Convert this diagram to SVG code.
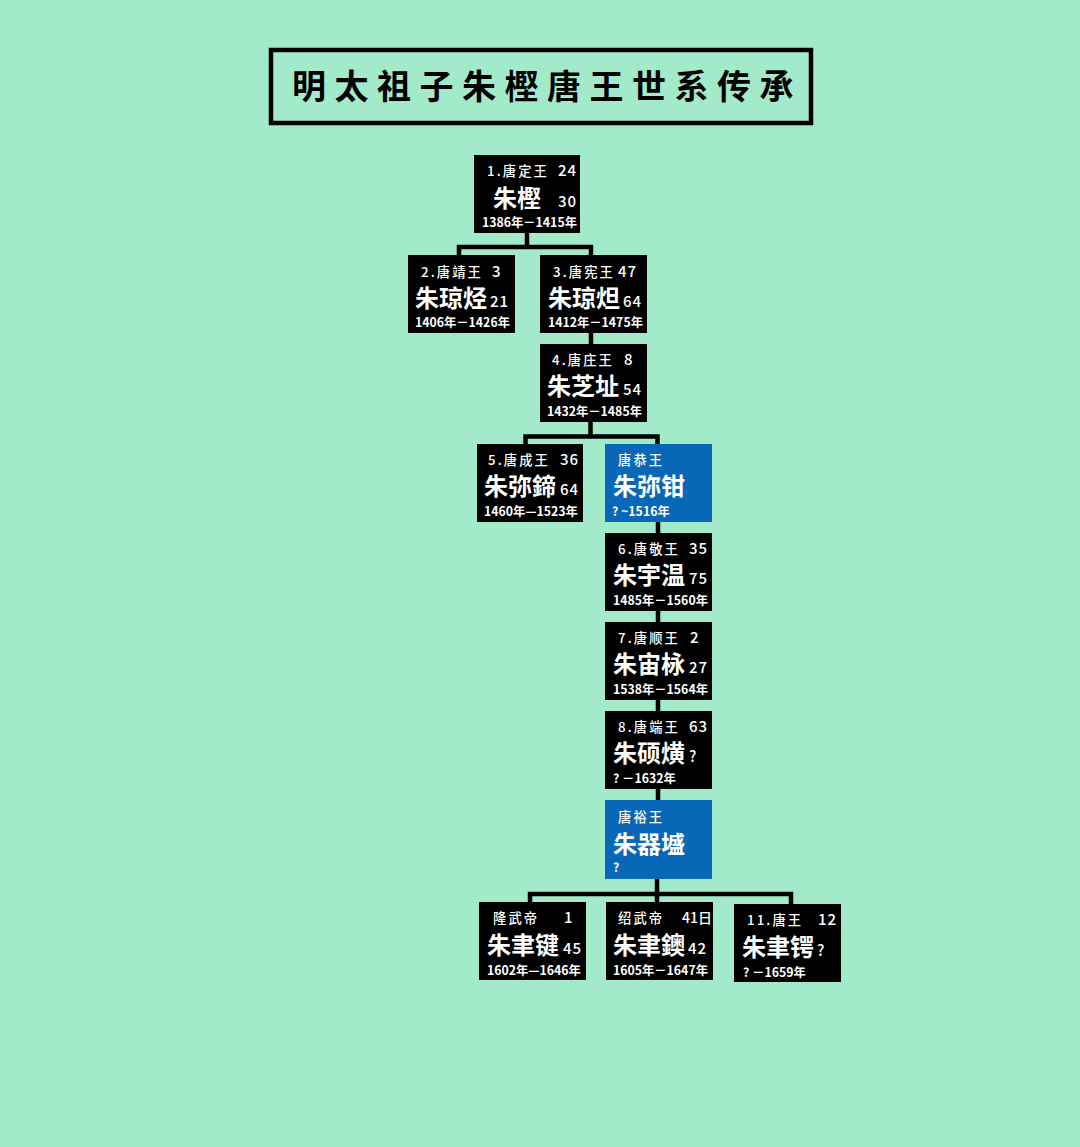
<svg xmlns="http://www.w3.org/2000/svg" width="1080" height="1147" viewBox="0 0 1080 1147">
<style>
text{font-family:"Noto Sans CJK SC","Noto Sans",sans-serif;fill:#fff}
.bk{fill:#000}
.bu{fill:#0867B6}
.lbl{font-size:13.3px;font-weight:500;letter-spacing:2.1px}
.age{font-size:15px;font-weight:500;letter-spacing:1px}
.nm{font-size:24px;font-weight:700}
.dt{font-size:12.3px;font-weight:700}
.title{font-size:34px;font-weight:700;letter-spacing:8.5px;fill:#000}
.conn{fill:none;stroke:#000;stroke-width:4.5}
</style>
<rect width="1080" height="1147" fill="#A3EACB"/>
<g id="title">
<rect x="271" y="50" width="540" height="73" fill="none" stroke="#000" stroke-width="4.5"/>
<text class="title" x="292" y="99">明太祖子朱樫唐王世系传承</text>
</g>
<g id="connectors" class="conn">
<path d="M527,233V247M459,255V247H591V255"/>
<path d="M591,333V344"/>
<path d="M590.5,422V436.5M525.5,444V436.5H657.5V444"/>
<path d="M658,522V533M658,611V622M658,700V711M658,789V800"/>
<path d="M657,879V902M530,902V894H791V904"/>
</g>
<g id="n1"><rect class="bk" x="474" y="155" width="106" height="78"/>
<text class="lbl" x="487" y="176">1.唐定王</text><text class="age" x="558" y="176">24</text>
<text class="nm" x="493" y="207">朱樫</text><text class="age" x="558" y="207">30</text>
<text class="dt" x="482" y="227">1386年－1415年</text></g>
<g id="n2"><rect class="bk" x="408" y="255" width="107" height="78"/>
<text class="lbl" x="421" y="277">2.唐靖王</text><text class="age" x="492" y="277">3</text>
<text class="nm" x="415" y="307">朱琼烃</text><text class="age" x="490" y="307">21</text>
<text class="dt" x="415" y="327">1406年－1426年</text></g>
<g id="n3"><rect class="bk" x="540" y="255" width="107" height="78"/>
<text class="lbl" x="553" y="277">3.唐宪王</text><text class="age" x="618" y="277">47</text>
<text class="nm" x="548" y="307">朱琼炟</text><text class="age" x="623" y="307">64</text>
<text class="dt" x="548" y="327">1412年－1475年</text></g>
<g id="n4"><rect class="bk" x="540" y="344" width="107" height="78"/>
<text class="lbl" x="552" y="365">4.唐庄王</text><text class="age" x="624" y="365">8</text>
<text class="nm" x="547" y="395">朱芝址</text><text class="age" x="623" y="395">54</text>
<text class="dt" x="547" y="416">1432年－1485年</text></g>
<g id="n5"><rect class="bk" x="477" y="444" width="106" height="78"/>
<text class="lbl" x="488" y="465">5.唐成王</text><text class="age" x="560" y="465">36</text>
<text class="nm" x="484" y="495">朱弥鍗</text><text class="age" x="560" y="495">64</text>
<text class="dt" x="484" y="516">1460年—1523年</text></g>
<g id="ngong"><rect class="bu" x="605" y="444" width="107" height="78"/>
<text class="lbl" x="618" y="465">唐恭王</text>
<text class="nm" x="613" y="495">朱弥钳</text>
<text class="dt" x="612" y="516">? ~1516年</text></g>
<g id="n6"><rect class="bk" x="605" y="533" width="107" height="78"/>
<text class="lbl" x="618" y="554">6.唐敬王</text><text class="age" x="689" y="554">35</text>
<text class="nm" x="613" y="584">朱宇温</text><text class="age" x="689" y="584">75</text>
<text class="dt" x="613" y="605">1485年－1560年</text></g>
<g id="n7"><rect class="bk" x="605" y="622" width="107" height="78"/>
<text class="lbl" x="618" y="643">7.唐顺王</text><text class="age" x="690" y="643">2</text>
<text class="nm" x="613" y="673">朱宙栐</text><text class="age" x="689" y="673">27</text>
<text class="dt" x="613" y="694">1538年－1564年</text></g>
<g id="n8"><rect class="bk" x="605" y="711" width="107" height="78"/>
<text class="lbl" x="618" y="732">8.唐端王</text><text class="age" x="689" y="732">63</text>
<text class="nm" x="613" y="762">朱硕熿</text><text class="age" x="689" y="762">?</text>
<text class="dt" x="613" y="783">? －1632年</text></g>
<g id="nyu"><rect class="bu" x="605" y="800" width="107" height="79"/>
<text class="lbl" x="618" y="822">唐裕王</text>
<text class="nm" x="613" y="853">朱器墭</text>
<text class="dt" x="613" y="872">?</text></g>
<g id="nlong"><rect class="bk" x="479" y="902" width="107" height="78"/>
<text class="lbl" x="493" y="923">隆武帝</text><text class="age" x="564" y="923">1</text>
<text class="nm" x="487" y="954">朱聿键</text><text class="age" x="563" y="954">45</text>
<text class="dt" x="487" y="975">1602年—1646年</text></g>
<g id="nshao"><rect class="bk" x="606" y="902" width="107" height="78"/>
<text class="lbl" x="618" y="923">绍武帝</text><text class="age" x="682" y="923" style="letter-spacing:0;font-size:14px">41日</text>
<text class="nm" x="613" y="954">朱聿鐭</text><text class="age" x="688" y="954">42</text>
<text class="dt" x="613" y="975">1605年－1647年</text></g>
<g id="n11"><rect class="bk" x="734" y="904" width="107" height="78"/>
<text class="lbl" x="747" y="925">11.唐王</text><text class="age" x="818" y="925">12</text>
<text class="nm" x="742" y="956">朱聿锷</text><text class="age" x="817" y="956">?</text>
<text class="dt" x="743" y="977">? －1659年</text></g>
</svg>
